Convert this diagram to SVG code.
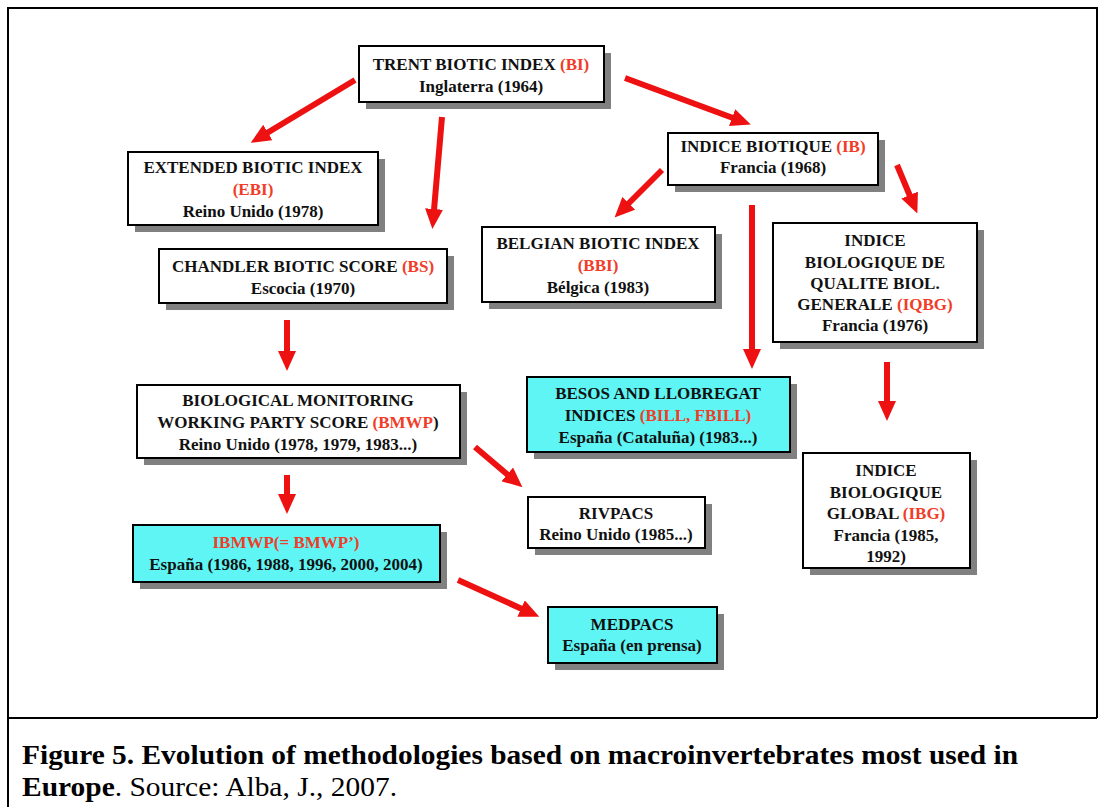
<svg xmlns="http://www.w3.org/2000/svg" width="1100" height="807" viewBox="0 0 1100 807">
  <style>
    .box { fill: #ffffff; stroke: #000000; stroke-width: 2; }
    .cyan { fill: #5ff5f5; stroke: #000000; stroke-width: 2; }
    .shadow { fill: #808080; }
    .t { font-family: "Liberation Serif", "Times New Roman", serif; font-weight: bold; font-size: 17px; fill: #111111; text-anchor: middle; }
    .r { fill: #f03c28; }
    .arrow { stroke: #ee1111; stroke-width: 6; fill: none; marker-end: url(#head); }
    .frame { stroke: #000000; stroke-width: 2; fill: none; }
    .cap { font-family: "Liberation Serif", "Times New Roman", serif; font-size: 28px; fill: #000000; }
  </style>
  <defs>
    <marker id="head" markerUnits="userSpaceOnUse" markerWidth="20" markerHeight="18" refX="1" refY="9" orient="auto">
      <path d="M0,0 L20,9 L0,18 z" fill="#ee1111"/>
    </marker>
  </defs>

  <rect width="1100" height="807" fill="#ffffff"/>

  <!-- figure frame -->
  <path class="frame" d="M8,807 L8,8 L1097,8 L1097,718 M8,718 L1097,718"/>

  <!-- connectors -->
  <g id="connectors">
    <line class="arrow" x1="355" y1="80" x2="267" y2="133"/>
    <line class="arrow" x1="442" y1="117" x2="434" y2="210"/>
    <line class="arrow" x1="625" y1="78" x2="733" y2="118"/>
    <line class="arrow" x1="662" y1="170" x2="628" y2="204"/>
    <line class="arrow" x1="752" y1="205" x2="752" y2="350"/>
    <line class="arrow" x1="897" y1="165" x2="910" y2="196"/>
    <line class="arrow" x1="287" y1="320" x2="287" y2="352"/>
    <line class="arrow" x1="287" y1="475" x2="287" y2="495"/>
    <line class="arrow" x1="475" y1="447" x2="508" y2="475"/>
    <line class="arrow" x1="458" y1="580" x2="522" y2="609"/>
    <line class="arrow" x1="887" y1="362" x2="887" y2="402"/>
  </g>

  <g id="trent">
    <rect class="shadow" x="366" y="53" width="245" height="56"/>
    <rect class="box" x="359" y="46" width="245" height="56"/>
    <text class="t" x="481" y="70">TRENT BIOTIC INDEX <tspan class="r">(BI)</tspan></text>
    <text class="t" x="481" y="92">Inglaterra  (1964)</text>
  </g>

  <g id="ebi">
    <rect class="shadow" x="135" y="159" width="250" height="73"/>
    <rect class="box" x="128" y="152" width="250" height="73"/>
    <text class="t" x="253" y="173">EXTENDED BIOTIC INDEX</text>
    <text class="t r" x="253" y="195">(EBI)</text>
    <text class="t" x="253" y="217">Reino Unido (1978)</text>
  </g>

  <g id="chandler">
    <rect class="shadow" x="166" y="256" width="288" height="54"/>
    <rect class="box" x="159" y="249" width="288" height="54"/>
    <text class="t" x="303" y="272">CHANDLER BIOTIC SCORE <tspan class="r">(BS)</tspan></text>
    <text class="t" x="303" y="294">Escocia (1970)</text>
  </g>

  <g id="bmwp">
    <rect class="shadow" x="144" y="392" width="323" height="73"/>
    <rect class="box" x="137" y="385" width="323" height="73"/>
    <text class="t" x="298" y="406">BIOLOGICAL MONITORING</text>
    <text class="t" x="298" y="428">WORKING PARTY SCORE <tspan class="r">(BMWP</tspan>)</text>
    <text class="t" x="298" y="450">Reino Unido  (1978, 1979, 1983...)</text>
  </g>

  <g id="ibmwp">
    <rect class="shadow" x="140" y="532" width="307" height="57"/>
    <rect class="cyan" x="133" y="525" width="307" height="57"/>
    <text class="t r" x="286" y="548">IBMWP(= BMWP’)</text>
    <text class="t" x="286" y="570">España  (1986, 1988, 1996, 2000, 2004)</text>
  </g>

  <g id="ib">
    <rect class="shadow" x="675" y="140" width="210" height="52"/>
    <rect class="box" x="668" y="133" width="210" height="52"/>
    <text class="t" x="773" y="152">INDICE BIOTIQUE <tspan class="r">(IB)</tspan></text>
    <text class="t" x="773" y="173">Francia  (1968)</text>
  </g>

  <g id="bbi">
    <rect class="shadow" x="489" y="234" width="233" height="75"/>
    <rect class="box" x="482" y="227" width="233" height="75"/>
    <text class="t" x="598" y="249">BELGIAN BIOTIC INDEX</text>
    <text class="t r" x="598" y="271">(BBI)</text>
    <text class="t" x="598" y="293">Bélgica  (1983)</text>
  </g>

  <g id="bill">
    <rect class="shadow" x="534" y="384" width="263" height="75"/>
    <rect class="cyan" x="527" y="377" width="263" height="75"/>
    <text class="t" x="658" y="399">BESOS AND LLOBREGAT</text>
    <text class="t" x="658" y="421">INDICES <tspan class="r">(BILL, FBILL)</tspan></text>
    <text class="t" x="658" y="443">España (Cataluña)  (1983...)</text>
  </g>

  <g id="iqbg">
    <rect class="shadow" x="780" y="230" width="204" height="119"/>
    <rect class="box" x="773" y="223" width="204" height="119"/>
    <text class="t" x="875" y="246">INDICE</text>
    <text class="t" x="875" y="268">BIOLOGIQUE DE</text>
    <text class="t" x="875" y="289">QUALITE BIOL.</text>
    <text class="t" x="875" y="310">GENERALE <tspan class="r">(IQBG)</tspan></text>
    <text class="t" x="875" y="331">Francia  (1976)</text>
  </g>

  <g id="ibg">
    <rect class="shadow" x="810" y="460" width="167" height="115"/>
    <rect class="box" x="803" y="453" width="167" height="115"/>
    <text class="t" x="886" y="476">INDICE</text>
    <text class="t" x="886" y="498">BIOLOGIQUE</text>
    <text class="t" x="886" y="519">GLOBAL <tspan class="r">(IBG)</tspan></text>
    <text class="t" x="886" y="541">Francia (1985,</text>
    <text class="t" x="886" y="562">1992)</text>
  </g>

  <g id="rivpacs">
    <rect class="shadow" x="535" y="504" width="177" height="51"/>
    <rect class="box" x="528" y="497" width="177" height="51"/>
    <text class="t" x="616" y="519">RIVPACS</text>
    <text class="t" x="616" y="540">Reino Unido  (1985...)</text>
  </g>

  <g id="medpacs">
    <rect class="shadow" x="555" y="614" width="169" height="56"/>
    <rect class="cyan" x="548" y="607" width="169" height="56"/>
    <text class="t" x="632" y="630">MEDPACS</text>
    <text class="t" x="632" y="651">España (en prensa)</text>
  </g>

  <!-- caption -->
  <text class="cap" x="22" y="764" font-weight="bold" textLength="996" lengthAdjust="spacingAndGlyphs">Figure 5. Evolution of methodologies based on macroinvertebrates most used in</text>
  <text class="cap" x="22" y="796" textLength="375" lengthAdjust="spacingAndGlyphs"><tspan font-weight="bold">Europe</tspan>. Source: Alba, J., 2007.</text>
</svg>
